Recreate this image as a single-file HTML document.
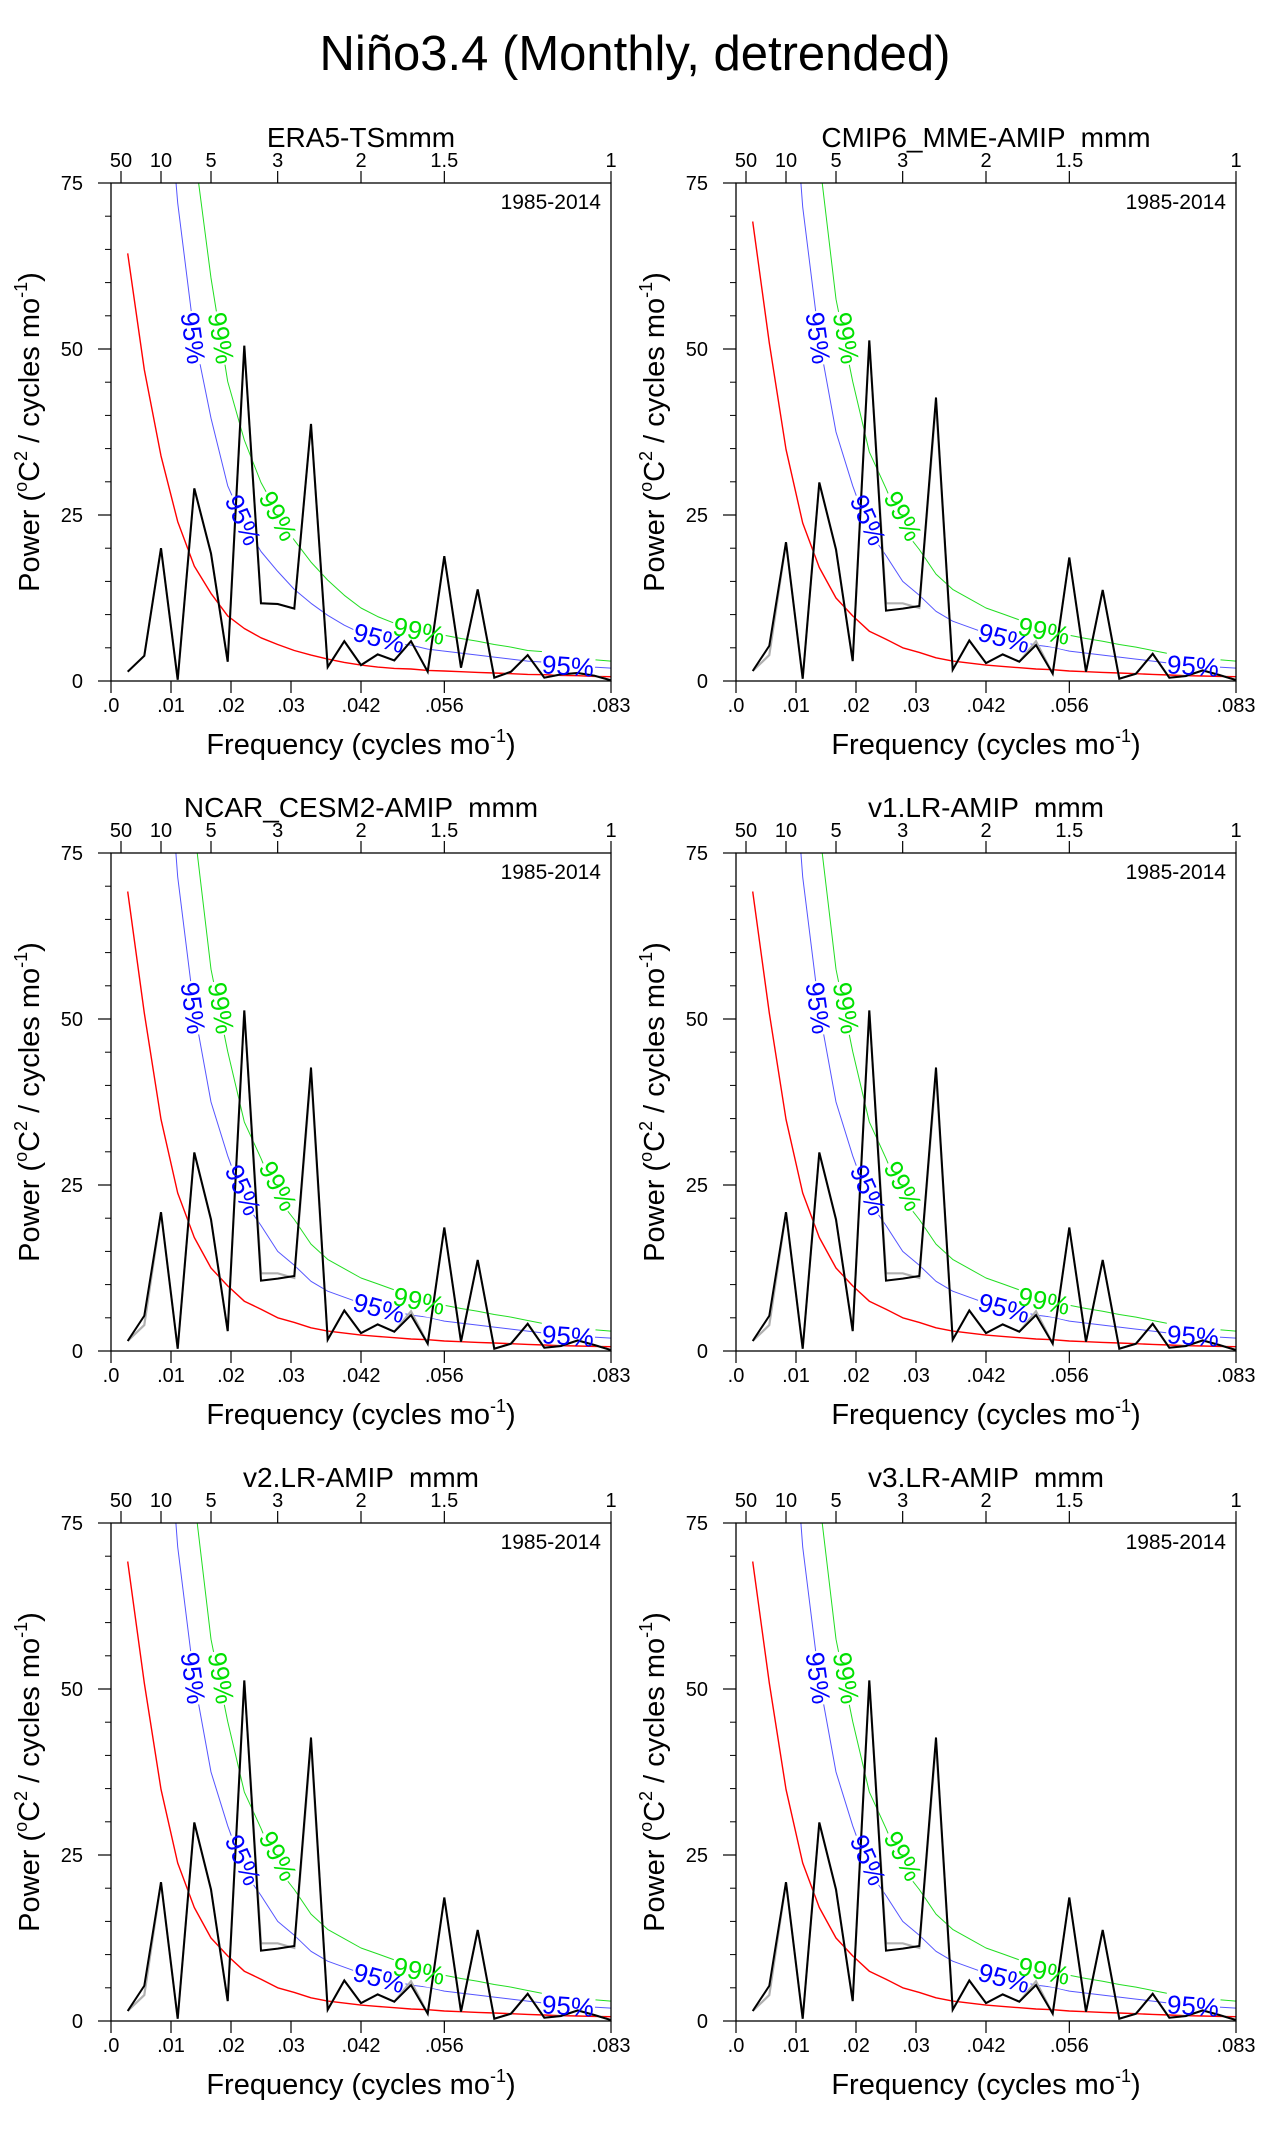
<!DOCTYPE html>
<html><head><meta charset="utf-8">
<style>
html,body{margin:0;padding:0;background:#fff;}
svg{display:block;font-family:"Liberation Sans",Arial,sans-serif;}
</style></head>
<body>
<svg id="fig" width="1268" height="2131" viewBox="0 0 1268 2131" xmlns="http://www.w3.org/2000/svg">
<rect x="0" y="0" width="1268" height="2131" fill="#fff"/>
<text x="635" y="70" font-size="49" text-anchor="middle">Niño3.4 (Monthly, detrended)</text>
</svg>
<script>
// ---- data ----
const panelTitles = ["ERA5-TSmmm", "CMIP6_MME-AMIP  mmm", "NCAR_CESM2-AMIP  mmm", "v1.LR-AMIP  mmm", "v2.LR-AMIP  mmm", "v3.LR-AMIP  mmm"];
const freqIndex = [1,2,3,4,5,6,7,8,9,10,11,12,13,14,15,16,17,18,19,20,21,22,23,24,25,26,27,28,29,30];
const specEra5 = [1.4,3.8,20,0.2,29,19.2,2.9,50.5,11.7,11.6,10.9,38.7,2.1,6,2.4,4,3.1,6,1.4,18.8,2,13.8,0.5,1.4,3.9,0.5,1,1.2,0.8,0.1];
const specModel = [1.5,5.3,20.9,0.35,29.9,19.8,3.0,51.3,10.6,10.9,11.3,42.7,1.7,6.1,2.7,4.0,2.9,5.4,1.1,18.6,1.4,13.7,0.35,1.1,4.1,0.5,0.75,1.6,0.9,0.15];
const specModelGray = [1.5,3.9,20.9,0.35,29.9,19.8,3.0,51.3,11.7,11.7,11.0,41.9,1.7,6.1,2.7,4.0,2.9,6.0,1.1,18.6,1.4,13.7,0.35,1.1,4.1,0.5,0.75,1.6,0.9,0.15];
const redEra5 = [64.4,46.9,33.9,24,17.3,13.2,9.8,7.9,6.5,5.5,4.6,3.9,3.3,2.8,2.4,2.1,1.9,1.8,1.6,1.5,1.4,1.3,1.2,1.1,1.0,0.95,0.85,0.8,0.7,0.65];
const redModel = [69.2,50.9,34.9,23.8,17.1,12.5,9.8,7.5,6.3,5.0,4.3,3.5,3.0,2.7,2.4,2.2,2.0,1.8,1.7,1.5,1.4,1.3,1.2,1.1,1.0,0.9,0.8,0.75,0.7,0.65];
const sig95Era5 = [193,141,102,72,52,39.6,29.4,23.7,19.5,16.5,13.8,11.7,9.9,8.4,7.2,6.3,5.7,5.4,4.8,4.5,4.2,3.9,3.6,3.3,3.0,2.85,2.55,2.4,2.1,1.95];
const sig99Era5 = [296,216,156,110,80,60.7,45.1,36.3,29.9,25.3,21.2,17.9,15.2,12.9,11,9.7,8.7,8.3,7.4,6.9,6.4,6,5.5,5.1,4.6,4.4,3.9,3.7,3.2,3.0];
const sig95Model = [207.6,152.7,104.7,71.4,51.3,37.5,29.4,22.5,18.9,15,12.9,10.5,9,8.1,7.2,6.6,6,5.4,5.1,4.5,4.2,3.9,3.6,3.3,3,2.7,2.4,2.25,2.1,1.95];
const sig99Model = [318,234,160.5,109.5,78.7,57.5,45.1,34.5,29,23,19.8,16.1,13.8,12.4,11,10.1,9.2,8.3,7.8,6.9,6.4,6,5.5,5.1,4.6,4.1,3.7,3.45,3.2,3];
const yTicks = [0,25,50,75];
const yMinor = [5,10,15,20,30,35,40,45,55,60,65,70];
const xTickFreqs = [0,0.01,0.02,0.03,1/24,1/18,1/12];
const xTickLabels = [".0",".01",".02",".03",".042",".056",".083"];
const periodTicks = [50,10,5,3,2,1.5,1];
const periodLabels = ["50","10","5","3","2","1.5","1"];

const NS = "http://www.w3.org/2000/svg";
const svg = document.getElementById("fig");
const W = 500, H = 498, FMAX = 1/12, YMAX = 75, DF = 1/360;
const origins = [[111,183],[736,183],[111,853],[736,853],[111,1523],[736,1523]];
const labelSpots = [[82,155,82,"95"],[110,155,80,"99"],[132,337,66,"95"],[167,333,62,"99"],[268,455,15,"95"],[308,448,12,"99"],[457,483,4,"95"]];

function mk(tag, attrs, parent){ const e=document.createElementNS(NS,tag); for(const k in attrs) e.setAttribute(k,attrs[k]); (parent||svg).appendChild(e); return e; }

function drawPanel(p){
  const [ox,oy] = origins[p];
  const xs = f => ox + f/FMAX*W;
  const ys = v => oy + H - v/YMAX*H;
  const isEra = p===0;
  const spec = isEra ? specEra5 : specModel;
  const gray = isEra ? specEra5 : specModelGray;
  const red = isEra ? redEra5 : redModel;
  const s95 = isEra ? sig95Era5 : sig95Model;
  const s99 = isEra ? sig99Era5 : sig99Model;
  const g = mk("g",{});
  
  
  const defs = mk("defs",{},g);
  const cp = mk("clipPath",{id:"clip"+p},defs);
  mk("rect",{x:ox,y:oy,width:W,height:H},cp);
  const mask = mk("mask",{id:"mask"+p,maskUnits:"userSpaceOnUse",x:0,y:0,width:1268,height:2131},defs);
  mk("rect",{x:0,y:0,width:1268,height:2131,fill:"#fff"},mask);
  labelSpots.forEach(s=>{ mk("rect",{x:-27,y:-14,width:54,height:28,fill:"#000",transform:`translate(${ox+s[0]},${oy+s[1]}) rotate(${s[2]})`},mask); });
  const pts = arr => arr.map((v,i)=>xs(freqIndex[i]*DF).toFixed(1)+","+ys(v).toFixed(1)).join(" ");
  const plotG = mk("g",{"clip-path":`url(#clip${p})`},g);
  const l99 = mk("polyline",{points:pts(s99),fill:"none",stroke:"#22dd22","stroke-width":1,"stroke-linejoin":"round",mask:`url(#mask${p})`},plotG);
  
  
  const l95 = mk("polyline",{points:pts(s95),fill:"none",stroke:"#5555ff","stroke-width":1,"stroke-linejoin":"round",mask:`url(#mask${p})`},plotG);
  
  
  const lr = mk("polyline",{points:pts(red),fill:"none",stroke:"#ff0000","stroke-width":1.4,"stroke-linejoin":"round"},plotG);
  
  
  const lg = mk("polyline",{points:pts(gray),fill:"none",stroke:"#b0b0b0","stroke-width":2.2},plotG);
  
  
  const lb = mk("polyline",{points:pts(spec),fill:"none",stroke:"#000","stroke-width":2,"stroke-linejoin":"miter"},plotG);
  
  
  labelSpots.forEach(s=>{
    const t = mk("text",{x:0,y:9,"font-size":26,"text-anchor":"middle",fill:s[3]==="95"?"#0000ff":"#00e000",transform:`translate(${ox+s[0]},${oy+s[1]}) rotate(${s[2]})`},g);
    t.textContent = s[3]+"%";
    
    
  });
  const fr = mk("rect",{x:ox,y:oy,width:W,height:H,fill:"none",stroke:"#000","stroke-width":1.3},g);
  
  
  yTicks.forEach(v=>{
    mk("line",{x1:ox-13,x2:ox,y1:ys(v),y2:ys(v),stroke:"#000","stroke-width":1.2},g);
    const t = mk("text",{x:ox-28,y:ys(v)+7,"font-size":20,"text-anchor":"end"},g);
    t.textContent = v;
    
    
  });
  yMinor.forEach(v=>{ mk("line",{x1:ox-6,x2:ox,y1:ys(v),y2:ys(v),stroke:"#000","stroke-width":1},g); });
  xTickFreqs.forEach((f,i)=>{
    mk("line",{x1:xs(f),x2:xs(f),y1:oy+H,y2:oy+H+12,stroke:"#000","stroke-width":1.2},g);
    const t = mk("text",{x:xs(f),y:oy+H+31,"font-size":20,"text-anchor":"middle"},g);
    t.textContent = xTickLabels[i];
    
    
  });
  periodTicks.forEach((per,i)=>{
    const f = 1/(12*per);
    mk("line",{x1:xs(f),x2:xs(f),y1:oy,y2:oy-12,stroke:"#000","stroke-width":1.2},g);
    const t = mk("text",{x:xs(f),y:oy-16,"font-size":20,"text-anchor":"middle"},g);
    t.textContent = periodLabels[i];
    
    
  });
  const ttl = mk("text",{x:ox+W/2,y:oy-36,"font-size":28,"text-anchor":"middle"},g);
  ttl.style.whiteSpace = "pre";
  ttl.textContent = panelTitles[p];
  
  
  const yr = mk("text",{x:ox+W-10,y:oy+26,"font-size":21,"text-anchor":"end"},g);
  yr.textContent = "1985-2014";
  
  
  const xt = mk("text",{x:ox+W/2,y:oy+H+73,"font-size":29,"text-anchor":"middle"},g);
  xt.innerHTML = 'Frequency (cycles mo<tspan dy="-12" font-size="18">-1</tspan><tspan dy="12">)</tspan>';
  
  
  const yt = mk("text",{x:0,y:0,"font-size":29,"text-anchor":"middle",transform:`translate(${ox-72},${oy+H/2}) rotate(-90)`},g);
  yt.innerHTML = 'Power (<tspan dy="-12" font-size="18">o</tspan><tspan dy="12">C</tspan><tspan dy="-12" font-size="18">2</tspan><tspan dy="12"> / cycles mo</tspan><tspan dy="-12" font-size="18">-1</tspan><tspan dy="12">)</tspan>';
  
  
}
for(let p=0;p<6;p++) drawPanel(p);
</script>
</body></html>
